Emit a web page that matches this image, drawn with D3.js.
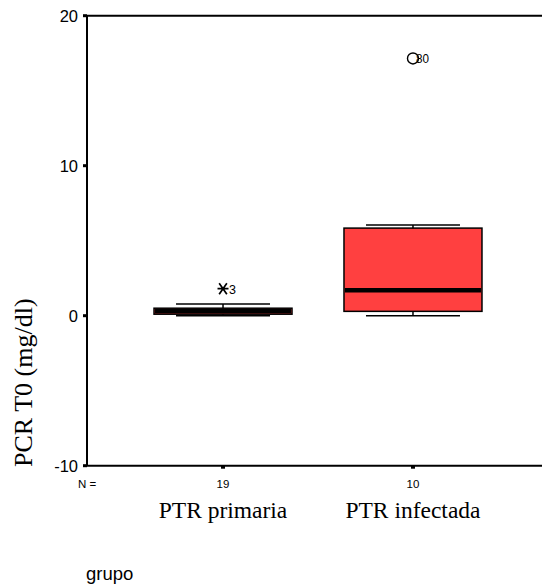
<!DOCTYPE html>
<html>
<head>
<meta charset="utf-8">
<script src="https://cdn.jsdelivr.net/npm/d3@7"></script>
<style>
  body { margin: 0; background: #fff; }
  text { fill: #000; }
</style>
</head>
<body>
<div id="container"></div>
<script>
// box plot: PCR T0 by grupo
let groups = ["PTR primaria", "PTR infectada"];
let counts = [19, 10];
let whiskerLow = [0, 0];
let q1 = [0.1, 0.29];
let medians = [0.3, 1.7];
let q3 = [0.5, 5.84];
let whiskerHigh = [0.78, 6.04];
let boxColors = ["#ff4040", "#ff4040"];
// outliers: [group index, value, case label, kind]
let outliers = [
    [0, 1.8, "3", "extreme"],
    [1, 17.15, "80", "outlier"]
];
let yTicks = [-10, 0, 10, 20];

let svgWidth = 542, svgHeight = 588;

let viz = d3.select("#container")
    .append("svg")
    .attr("width", svgWidth)
    .attr("height", svgHeight);

let y = d3.scaleLinear().domain([-10, 20]).range([465.7, 15.7]);
let x = d3.scalePoint().domain(groups).range([87, 549]).padding(0.716);

let boxW = 138, whiskW = 94;

// frame lines (top and bottom run off to the right)
viz.append("line").attr("x1", 87).attr("x2", svgWidth).attr("y1", y(20)).attr("y2", y(20))
    .attr("stroke", "#000").attr("stroke-width", 2);
viz.append("line").attr("x1", 87).attr("x2", svgWidth).attr("y1", y(-10)).attr("y2", y(-10))
    .attr("stroke", "#000").attr("stroke-width", 2);
viz.append("line").attr("x1", 87).attr("x2", 87).attr("y1", y(20)).attr("y2", y(-10))
    .attr("stroke", "#000").attr("stroke-width", 2);

// y ticks
viz.selectAll(".ytick").data(yTicks).enter().append("rect")
    .attr("x", 83).attr("y", d => y(d) - 1.5).attr("width", 4).attr("height", 3)
    .attr("fill", "#000");
viz.selectAll(".ylab").data(yTicks).enter().append("text")
    .attr("x", 78).attr("y", d => y(d) + 6)
    .attr("text-anchor", "end")
    .style("font", "16.5px Arial, 'Liberation Sans', sans-serif")
    .text(d => d);

// y title
viz.append("text")
    .attr("transform", "translate(32,467) rotate(-90)")
    .attr("text-anchor", "start")
    .style("font", "26px 'Times New Roman', 'Liberation Serif', serif")
    .text("PCR T0 (mg/dl)");

// x ticks
viz.selectAll(".xtick").data(groups).enter().append("rect")
    .attr("x", d => x(d) - 2).attr("y", y(-10)).attr("width", 4).attr("height", 3)
    .attr("fill", "#000");

// N labels
viz.append("text").attr("x", 87).attr("y", 488).attr("text-anchor", "middle")
    .style("font", "11.5px Arial, 'Liberation Sans', sans-serif").text("N =");
viz.selectAll(".nlab").data(groups).enter().append("text")
    .attr("x", d => x(d)).attr("y", 488).attr("text-anchor", "middle")
    .style("font", "11.5px Arial, 'Liberation Sans', sans-serif")
    .text((d, i) => counts[i]);

// category labels
viz.selectAll(".clab").data(groups).enter().append("text")
    .attr("x", d => x(d)).attr("y", 518).attr("text-anchor", "middle")
    .style("font", "23.5px 'Times New Roman', 'Liberation Serif', serif")
    .text(d => d);

// x title
viz.append("text").attr("x", 86).attr("y", 580)
    .style("font", "18.5px Arial, 'Liberation Sans', sans-serif").text("grupo");

// boxes
let g = viz.selectAll(".box").data(groups).enter().append("g");

g.append("line")
    .attr("x1", d => x(d)).attr("x2", d => x(d))
    .attr("y1", (d, i) => y(whiskerLow[i])).attr("y2", (d, i) => y(whiskerHigh[i]))
    .attr("stroke", "#000").attr("stroke-width", 1.5);
g.append("line")
    .attr("x1", d => x(d) - whiskW / 2).attr("x2", d => x(d) + whiskW / 2)
    .attr("y1", (d, i) => y(whiskerLow[i])).attr("y2", (d, i) => y(whiskerLow[i]))
    .attr("stroke", "#000").attr("stroke-width", 1.5);
g.append("line")
    .attr("x1", d => x(d) - whiskW / 2).attr("x2", d => x(d) + whiskW / 2)
    .attr("y1", (d, i) => y(whiskerHigh[i])).attr("y2", (d, i) => y(whiskerHigh[i]))
    .attr("stroke", "#000").attr("stroke-width", 1.5);
g.append("rect")
    .attr("x", d => x(d) - boxW / 2).attr("width", boxW)
    .attr("y", (d, i) => y(q3[i])).attr("height", (d, i) => y(q1[i]) - y(q3[i]))
    .attr("fill", (d, i) => boxColors[i])
    .attr("stroke", "#000").attr("stroke-width", 1.5);
g.append("line")
    .attr("x1", d => x(d) - boxW / 2 + 1).attr("x2", d => x(d) + boxW / 2 - 1)
    .attr("y1", (d, i) => y(medians[i])).attr("y2", (d, i) => y(medians[i]))
    .attr("stroke", "#000").attr("stroke-width", 4.5);

// outliers
outliers.forEach(function(o) {
    let cx = x(groups[o[0]]), cy = y(o[1]);
    if (o[3] == "extreme") {
        let s = 5.5;
        viz.append("path")
            .attr("d", `M${cx - s},${cy}H${cx + s}M${cx - s * 0.7},${cy - s}L${cx + s * 0.7},${cy + s}M${cx - s * 0.7},${cy + s}L${cx + s * 0.7},${cy - s}`)
            .attr("stroke", "#000").attr("stroke-width", 1.7).attr("fill", "none");
        viz.append("text").attr("x", cx + 6).attr("y", cy + 5)
            .style("font", "12.5px Arial, 'Liberation Sans', sans-serif").text(o[2]);
    } else {
        viz.append("circle").attr("cx", cx).attr("cy", cy).attr("r", 5.5)
            .attr("fill", "none").attr("stroke", "#000").attr("stroke-width", 1.4);
        viz.append("text").attr("x", cx + 3).attr("y", cy + 4.5)
            .style("font", "12.5px Arial, 'Liberation Sans', sans-serif")
            .attr("textLength", 13).attr("lengthAdjust", "spacingAndGlyphs")
            .text(o[2]);
    }
});
</script>
</body>
</html>
